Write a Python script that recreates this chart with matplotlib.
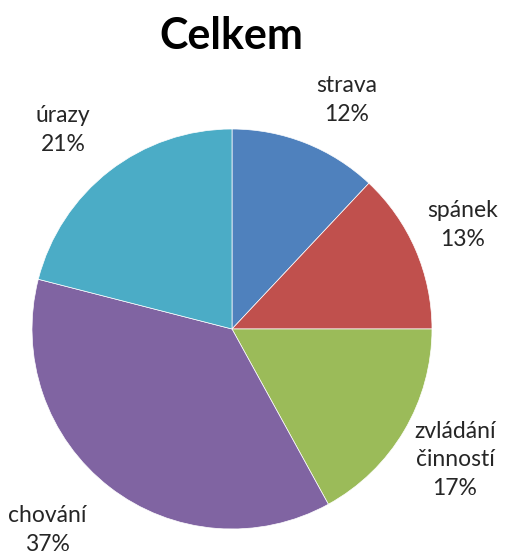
import matplotlib
matplotlib.use("Agg")
import matplotlib.pyplot as plt

plt.rcParams['font.family'] = ['Lato', 'DejaVu Sans']

categories = ["strava", "spánek", "zvládání\nčinností", "chování", "úrazy"]
values = [12, 13, 17, 37, 21]
colors = ["#4F81BD", "#C0504D", "#9BBB59", "#8064A2", "#4BACC6"]
title = "Celkem"

fig = plt.figure(figsize=(5.14, 5.56), dpi=100)
ax = fig.add_axes([32/514, 27/556, 400/514, 400/556])
wedges, _ = ax.pie(values, colors=colors, startangle=90, counterclock=False,
                   radius=1.0, wedgeprops=dict(linewidth=0.5, edgecolor='white'))
ax.set_xlim(-1, 1)
ax.set_ylim(-1, 1)
ax.set_aspect('equal')
ax.axis('off')

label_pos = [(0.575, 1.145), (1.155, 0.52), (1.115, -0.655), (-0.925, -1.005), (-0.845, 0.995)]
for cat, v, (x, y) in zip(categories, values, label_pos):
    ax.text(x, y, f"{cat}\n{v}%", ha='center', va='center', fontsize=16.5,
            color='#262626', linespacing=1.45, clip_on=False)

fig.text(231/514, 1 - 36/556, title, ha='center', va='center', fontsize=31,
         fontweight='bold', color='black')

fig.savefig("out.png", dpi=100)
